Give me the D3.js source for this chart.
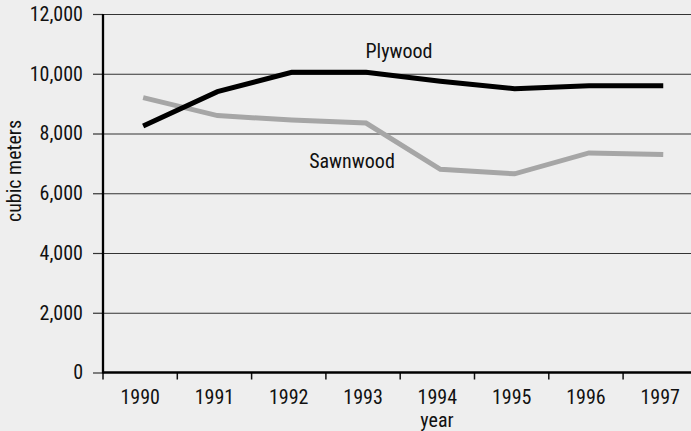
<!DOCTYPE html>
<html>
<head>
<meta charset="utf-8">
<script src="https://cdn.jsdelivr.net/npm/d3@7"></script>
<style>
  html, body { margin: 0; padding: 0; background: #eeeeee; }
  svg { display: block; }
  text { font-family: "Liberation Sans Narrow", "Roboto Condensed", "DejaVu Sans Condensed", sans-serif; font-size: 20px; fill: #111; }
</style>
</head>
<body>
<svg id="chart" width="691" height="431"></svg>
<script>
var years = ["1990", "1991", "1992", "1993", "1994", "1995", "1996", "1997"];
var plywood = [8250, 9400, 10050, 10050, 9750, 9500, 9600, 9600];
var sawnwood = [9200, 8600, 8450, 8350, 6800, 6650, 7350, 7300];
var yTicks = [0, 2000, 4000, 6000, 8000, 10000, 12000];

(function () {
  var svg = d3.select("#chart");
  var left = 103, right = 697.4, plotTop = 14, bottom = 372.5;

  var x = d3.scaleBand().domain(years).range([left, right]).padding(0);
  var y = d3.scaleLinear().domain([0, 12000]).range([bottom, plotTop]);

  // grid lines + y ticks
  var yAxis = svg.append("g")
    .attr("transform", "translate(" + left + ",0)")
    .call(d3.axisLeft(y).tickValues(yTicks).tickFormat(d3.format(",d")).tickSize(10).tickPadding(10));
  yAxis.select(".domain").remove();
  yAxis.selectAll(".tick line").attr("stroke", "#333").attr("stroke-width", 1.2);
  yAxis.selectAll(".tick text").style("font-size", "20px").attr("fill", "#111");
  yAxis.selectAll(".tick")
    .filter(function (d) { return d > 0; })
    .append("line")
    .attr("x1", 0).attr("x2", 691 - left)
    .attr("stroke", "#333").attr("stroke-width", 1.2);

  // x axis
  var xAxis = svg.append("g")
    .attr("transform", "translate(0," + bottom + ")")
    .call(d3.axisBottom(x).tickSize(0).tickPadding(17));
  xAxis.select(".domain").remove();
  xAxis.selectAll(".tick text").style("font-size", "20px").attr("fill", "#111");
  xAxis.selectAll(".boundary")
    .data(years.map(function (d) { return x(d); }))
    .enter().append("line")
    .attr("x1", function (d) { return d; }).attr("x2", function (d) { return d; })
    .attr("y1", 0).attr("y2", 7)
    .attr("stroke", "#111").attr("stroke-width", 1.5);

  svg.append("line")
    .attr("x1", left).attr("x2", 691)
    .attr("y1", bottom).attr("y2", bottom)
    .attr("stroke", "#000").attr("stroke-width", 2.5);
  svg.append("line")
    .attr("x1", left).attr("x2", left)
    .attr("y1", plotTop).attr("y2", bottom + 1)
    .attr("stroke", "#000").attr("stroke-width", 2.3);

  // series
  var line = d3.line()
    .x(function (d, i) { return x(years[i]) + x.bandwidth() / 2 + 3; })
    .y(function (d) { return y(d); });

  svg.append("path").datum(sawnwood)
    .attr("d", line).attr("fill", "none")
    .attr("stroke", "#a6a6a6").attr("stroke-width", 5);
  svg.append("path").datum(plywood)
    .attr("d", line).attr("fill", "none")
    .attr("stroke", "#000").attr("stroke-width", 5);

  svg.append("text").attr("x", 399).attr("y", 58).attr("text-anchor", "middle").text("Plywood");
  svg.append("text").attr("x", 352).attr("y", 168).attr("text-anchor", "middle").text("Sawnwood");

  // axis titles
  svg.append("text").attr("x", 437).attr("y", 427).attr("text-anchor", "middle").text("year");
  svg.append("text")
    .attr("transform", "translate(21,171) rotate(-90)")
    .attr("text-anchor", "middle")
    .text("cubic meters");
})();
</script>
</body>
</html>
